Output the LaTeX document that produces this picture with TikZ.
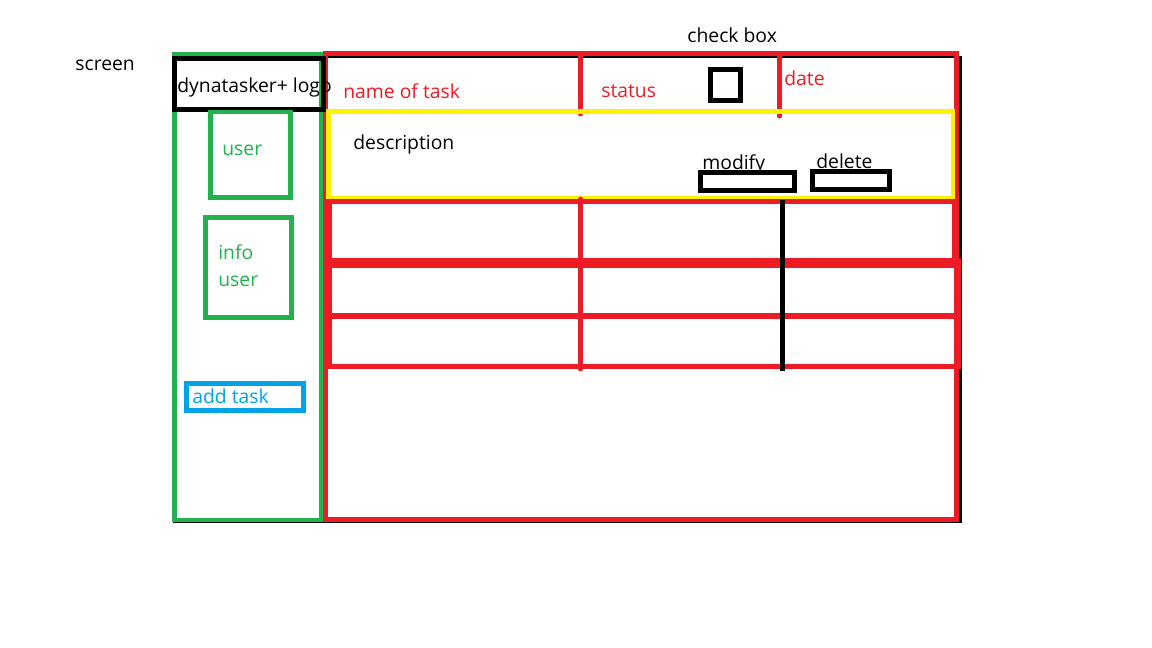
\documentclass[tikz,border=0pt]{standalone}
\usepackage{fontspec}
\setmainfont{Open Sans}
\definecolor{pred}{HTML}{ED1C24}
\definecolor{pgreen}{HTML}{22B14C}
\definecolor{pblue}{HTML}{00A2E8}
\definecolor{pyellow}{HTML}{FFF200}
\begin{document}
\begin{tikzpicture}[x=0.02cm,y=-0.02cm,
  lbl/.style={anchor=base west,inner sep=0pt,font=\fontsize{11pt}{13pt}\selectfont},
  redln/.style={draw=pred,line width=0.1cm},
  greenln/.style={draw=pgreen,line width=0.09cm},
  blackln/.style={draw=black,line width=0.1cm},
  blueln/.style={draw=pblue,line width=0.1cm},
  yellowln/.style={draw=pyellow,line width=0.09cm}]
\useasboundingbox[fill=white] (0,0) rectangle (1152,648);
% screen outline
\draw[black,line width=0.05cm] (174,57) rectangle (960.5,522);
% sidebar
\draw[greenln] (174.5,54) rectangle (321.5,520);
% main area
\draw[redln] (325,54) rectangle (956.5,519.5);
\draw[redln,line cap=round] (580.5,54) -- (580.5,114);
\draw[redln,line cap=round] (779.5,54) -- (779.5,116);
% description
\draw[yellowln] (328.5,111.5) rectangle (953,198);
% rows
\draw[redln] (325,201.5) -- (954,201.5);
\draw[draw=pred,line width=0.14cm] (328.5,199) -- (328.5,369);
\draw[redln] (954,199) -- (954,263);
\draw[redln] (958,258) -- (958,369);
\draw[draw=pred,line width=0.2cm] (325,263) -- (958,263);
\draw[draw=pred,line width=0.12cm] (329,316) -- (958,316);
\draw[redln] (325,366.5) -- (961,366.5);
\draw[redln,line cap=round] (580.5,199) -- (580.5,369);
\draw[blackln] (782.5,200) -- (782.5,371);
% logo box
\draw[blackln] (174.5,58.5) rectangle (323,109.5);
% sidebar boxes
\draw[greenln] (210.5,112) rectangle (290.5,197.5);
\draw[greenln] (205.5,217.5) rectangle (291.5,317.5);
\draw[blueln] (186.5,383.5) rectangle (303.5,410.5);
% texts
\node[lbl] (screen) at (75,70.5) {screen};
\node[lbl] (checkbox) at (687,42.5) {check box};
\node[lbl] (logo) at (177,92.5) {dynatasker+ logo};
\node[lbl,text=pred] (name) at (343,98.5) {name of task};
\node[lbl,text=pred] (status) at (601,97.5) {status};
\node[lbl,text=pred] (date) at (784,85.5) {date};
\node[lbl] (desc) at (353,149.5) {description};
\node[lbl] (modify) at (702,170) {modify};
\node[lbl] (delete) at (816,168.5) {delete};
\node[lbl,text=pgreen] (user) at (222,155.5) {user};
\node[lbl,text=pgreen] (info) at (218,259.5) {info};
\node[lbl,text=pgreen] (infouser) at (218,286.5) {user};
\node[lbl,text=pblue] (addtask) at (192,403.5) {add task};
% check box and buttons
\draw[blackln] (710.5,69.5) rectangle (740.5,100.5);
\draw[blackln] (700.5,172.5) rectangle (794.5,190.5);
\draw[blackln] (812.5,171.5) rectangle (889.5,189.5);
\end{tikzpicture}
\end{document}
